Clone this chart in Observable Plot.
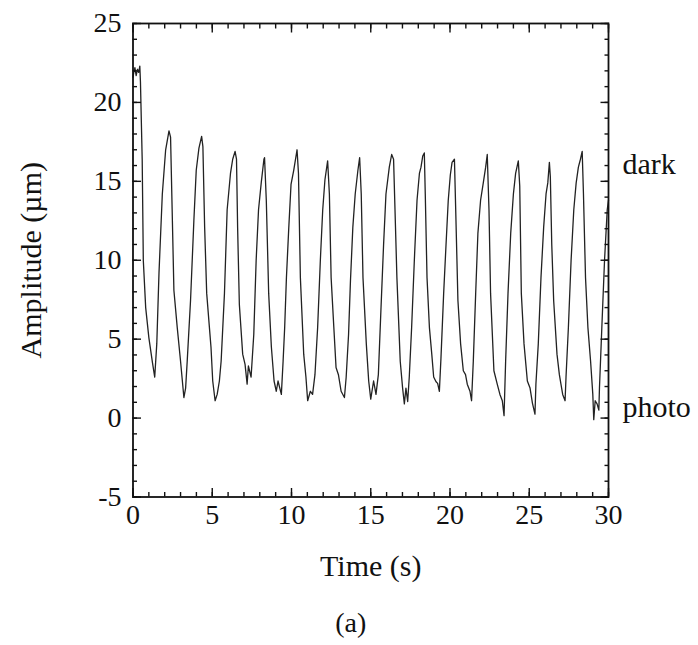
<!DOCTYPE html>
<html>
<head>
<meta charset="utf-8">
<script src="https://cdn.jsdelivr.net/npm/d3@7"></script>
<script src="https://cdn.jsdelivr.net/npm/@observablehq/plot@0.6"></script>
<style>
  html, body { margin: 0; padding: 0; background: #fff; }
</style>
</head>
<body>
<div id="chart"></div>
<script>
// Time (s)
const times = [
  0.00, 0.05, 0.12, 0.20, 0.28, 0.36, 0.43, 0.47, 0.58, 0.65, 0.80, 1.00, 1.23, 1.37, 1.50, 1.64, 1.85, 2.06, 2.27, 2.37,
  2.47, 2.58, 2.79, 3.00, 3.21, 3.32, 3.42, 3.63, 3.84, 3.99, 4.16, 4.33, 4.41, 4.52, 4.65, 4.80, 4.92, 5.03, 5.18, 5.31,
  5.45, 5.56, 5.77, 5.94, 6.15, 6.29, 6.44, 6.53, 6.60, 6.71, 6.92, 7.07, 7.20, 7.28, 7.45, 7.62, 7.77, 7.92, 8.09, 8.26,
  8.30, 8.41, 8.56, 8.73, 8.90, 9.04, 9.15, 9.36, 9.47, 9.57, 9.68, 9.83, 9.97, 10.14, 10.35, 10.44, 10.56, 10.77, 10.91, 11.02,
  11.19, 11.33, 11.48, 11.65, 11.82, 11.97, 12.11, 12.28, 12.39, 12.50, 12.67, 12.81, 12.96, 13.13, 13.34, 13.45, 13.60, 13.72, 13.87, 14.02,
  14.19, 14.30, 14.40, 14.51, 14.72, 14.87, 15.00, 15.18, 15.33, 15.48, 15.64, 15.81, 15.96, 16.17, 16.32, 16.44, 16.53, 16.65, 16.86, 17.01,
  17.12, 17.22, 17.33, 17.43, 17.58, 17.75, 17.92, 18.07, 18.17, 18.28, 18.38, 18.44, 18.55, 18.70, 18.85, 18.97, 19.12, 19.22, 19.33, 19.43,
  19.60, 19.75, 19.89, 20.02, 20.13, 20.28, 20.36, 20.50, 20.67, 20.84, 20.98, 21.09, 21.26, 21.36, 21.47, 21.62, 21.76, 21.93, 22.10, 22.25,
  22.35, 22.46, 22.56, 22.77, 22.98, 23.15, 23.30, 23.41, 23.51, 23.66, 23.83, 24.00, 24.14, 24.31, 24.40, 24.50, 24.67, 24.88, 25.05, 25.20,
  25.36, 25.42, 25.57, 25.74, 25.91, 26.06, 26.17, 26.27, 26.33, 26.42, 26.54, 26.75, 26.90, 27.00, 27.11, 27.26, 27.32, 27.47, 27.64, 27.81,
  27.96, 28.10, 28.23, 28.34, 28.42, 28.55, 28.70, 28.87, 29.01, 29.07, 29.16, 29.28, 29.39, 29.43, 29.58, 29.75, 29.92, 30.00
];
// Amplitude (µm)
const amps = [
  21.6, 21.9, 22.2, 21.7, 22.1, 21.9, 22.3, 21.3, 16.4, 10.0, 7.0, 5.1, 3.5, 2.6, 4.7, 9.2, 14.2, 17.0, 18.2, 17.8,
  13.2, 8.1, 5.75, 3.6, 1.3, 1.9, 3.6, 7.45, 12.5, 15.7, 17.1, 17.85, 17.2, 12.1, 7.9, 6.0, 4.5, 2.35, 1.1, 1.5,
  2.35, 3.6, 7.9, 13.2, 15.5, 16.4, 16.9, 16.4, 12.1, 7.2, 4.05, 3.4, 2.15, 3.3, 2.6, 5.3, 10.0, 13.2, 14.9, 16.4,
  16.5, 13.8, 7.9, 4.5, 2.35, 1.7, 2.35, 1.5, 3.6, 5.75, 8.9, 12.1, 14.8, 15.7, 17.0, 15.5, 8.9, 4.05, 2.6, 1.1,
  1.7, 1.5, 2.75, 5.75, 10.0, 13.2, 15.1, 16.3, 14.2, 8.9, 5.75, 3.2, 2.75, 1.7, 1.3, 2.6, 5.3, 8.7, 12.1, 14.2,
  15.7, 16.5, 14.2, 8.9, 4.7, 2.35, 1.2, 2.35, 1.5, 2.75, 6.8, 11.0, 14.2, 15.9, 16.7, 16.4, 13.2, 8.9, 3.6, 1.9,
  0.9, 1.9, 1.05, 2.6, 5.75, 10.0, 13.8, 15.5, 15.9, 16.6, 16.8, 14.2, 8.9, 5.75, 4.05, 2.6, 2.3, 2.2, 1.7, 3.8,
  7.9, 11.0, 13.8, 15.4, 16.2, 16.4, 13.2, 7.45, 4.7, 3.0, 2.75, 2.15, 1.7, 1.1, 3.6, 7.9, 11.7, 13.8, 14.9, 15.9,
  16.7, 13.2, 7.9, 3.0, 2.15, 1.5, 1.1, 0.15, 3.6, 7.9, 11.7, 14.2, 15.5, 16.3, 14.7, 7.9, 4.7, 2.35, 1.9, 0.95,
  0.25, 2.15, 4.7, 8.9, 12.1, 14.2, 14.9, 16.2, 15.3, 11.0, 7.45, 4.05, 2.75, 2.15, 1.5, 1.1, 2.6, 5.75, 10.0, 13.2,
  14.9, 15.9, 16.4, 16.9, 14.2, 8.9, 5.75, 3.6, 1.5, -0.1, 1.1, 0.9, 0.5, 1.9, 5.75, 10.0, 13.2, 13.8
];

const xMajorTicks = [0, 5, 10, 15, 20, 25, 30];
const xMinorTicks = d3.range(0, 31, 1);
const yMajorTicks = [-5, 0, 5, 10, 15, 20, 25];
const yMinorTicks = d3.range(-5, 26, 1);

const stateLabels = ["dark", "photo"];
const stateLevels = [16.1, 0.7];

const xTitle = "Time (s)";
const yTitle = "Amplitude (µm)";
const caption = "(a)";

const data = times.map((t, i) => ({t, a: amps[i]}));
const states = stateLabels.map((s, i) => ({s, v: stateLevels[i]}));

const tickStyle = {stroke: "#111", strokeWidth: 1.4, label: null, tickFormat: () => ""};

const chart = Plot.plot({
  width: 698,
  height: 645,
  marginLeft: 132.5,
  marginRight: 90,
  marginTop: 23,
  marginBottom: 148.5,
  style: {
    fontFamily: "'Liberation Serif', 'Times New Roman', serif",
    fontSize: "28px",
    color: "#111",
    background: "#fff"
  },
  x: {domain: [0, 30]},
  y: {domain: [-5, 25]},
  marks: [
    Plot.line(data, {x: "t", y: "a", stroke: "#222", strokeWidth: 1.3}),
    // minor ticks
    Plot.axisX({anchor: "bottom", ticks: xMinorTicks, tickSize: -4.5, ...tickStyle}),
    Plot.axisX({anchor: "top", ticks: xMinorTicks, tickSize: -4.5, ...tickStyle}),
    Plot.axisY({anchor: "left", ticks: yMinorTicks, tickSize: -4.5, ...tickStyle}),
    Plot.axisY({anchor: "right", ticks: yMinorTicks, tickSize: -4.5, ...tickStyle}),
    // major ticks
    Plot.axisX({anchor: "bottom", ticks: xMajorTicks, tickSize: -8.5, ...tickStyle}),
    Plot.axisX({anchor: "top", ticks: xMajorTicks, tickSize: -8.5, ...tickStyle}),
    Plot.axisY({anchor: "left", ticks: yMajorTicks, tickSize: -8.5, ...tickStyle}),
    Plot.axisY({anchor: "right", ticks: yMajorTicks, tickSize: -8.5, ...tickStyle}),
    // tick labels
    Plot.axisX({anchor: "bottom", ticks: xMajorTicks, tickSize: 0, tickPadding: 7, label: null, tickFormat: d => String(d), fill: "#111"}),
    Plot.axisY({anchor: "left", ticks: yMajorTicks, tickSize: 0, tickPadding: 11.5, label: null, tickFormat: d => String(d), fill: "#111"}),
    Plot.frame({stroke: "#111", strokeWidth: 1.8}),
    // state labels on the right
    Plot.text(states, {x: () => 30, y: "v", text: "s", textAnchor: "start", dx: 14, fontSize: 30, fill: "#111"}),
    // axis titles and caption
    Plot.text([xTitle], {frameAnchor: "bottom", textAnchor: "middle", lineAnchor: "middle", dy: 69, fontSize: 30, fill: "#111"}),
    Plot.text([yTitle], {frameAnchor: "left", textAnchor: "middle", lineAnchor: "middle", dx: -102, rotate: -90, fontSize: 30, fill: "#111"}),
    Plot.text([caption], {frameAnchor: "bottom", textAnchor: "middle", lineAnchor: "middle", dx: -20, dy: 126, fontSize: 28, fill: "#111"})
  ]
});
document.getElementById("chart").appendChild(chart);
</script>
</body>
</html>
